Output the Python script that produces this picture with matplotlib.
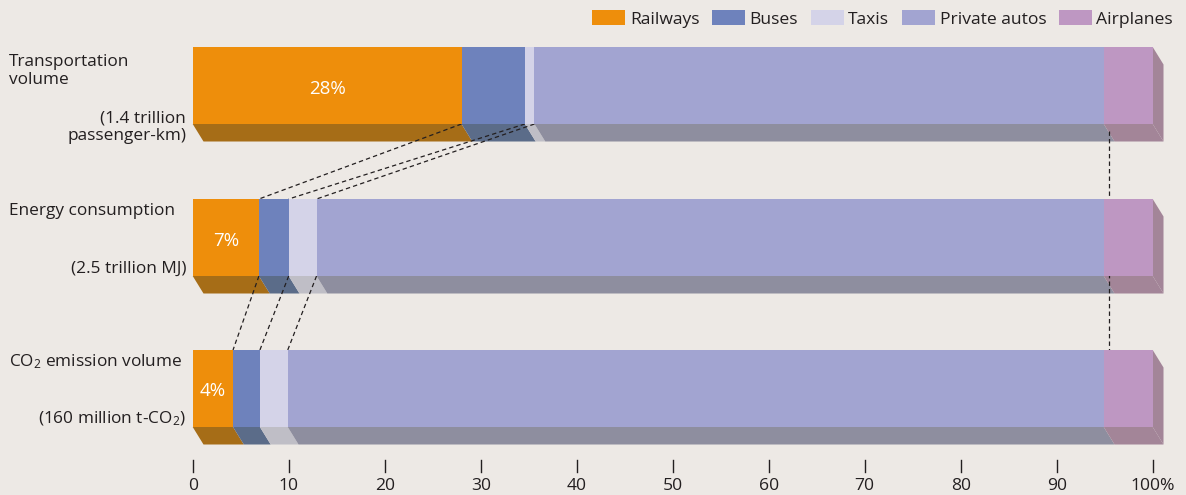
import matplotlib
matplotlib.use("Agg")
import matplotlib.pyplot as plt
from matplotlib.patches import Polygon, Patch
import numpy as np

plt.rcParams['font.family'] = ['Open Sans', 'DejaVu Sans']
plt.rcParams['mathtext.default'] = 'regular'

# ---------------- data ----------------
categories = ["Railways", "Buses", "Taxis", "Private autos", "Airplanes"]
transport_share = [28.0, 6.6, 1.0, 59.3, 5.1]
energy_share = [6.9, 3.1, 2.9, 82.0, 5.1]
co2_share = [4.2, 2.8, 2.9, 85.0, 5.1]
row_titles = ["Transportation\nvolume", "Energy consumption", "CO$_2$ emission volume"]
row_totals = ["(1.4 trillion\npassenger-km)", "(2.5 trillion MJ)", "(160 million t-CO$_2$)"]
rail_labels = ["28%", "7%", "4%"]
tick_values = [0, 10, 20, 30, 40, 50, 60, 70, 80, 90, 100]
tick_labels = ["0", "10", "20", "30", "40", "50", "60", "70", "80", "90", "100%"]
airplane_guide = 95.4

# ---------------- style ----------------
bg = "#EDE9E5"
face_colors = ["#EE8E0B", "#6E82BC", "#D4D3E8", "#A2A4D1", "#BE97C2"]
shade_colors = ["#A66D17", "#5B6C89", "#BFBEC6", "#8E8E9F", "#A38598"]
txt = "#231F20"

W, H = 1186, 495
fig = plt.figure(figsize=(W / 100, H / 100), dpi=100, facecolor=bg)
ax = fig.add_axes([0, 0, 1, 1])
ax.set_facecolor(bg)
px0, ppu = 192.7, 9.6          # pixel of 0 %, pixels per %
ax.set_xlim(-px0 / ppu, (W - px0) / ppu)
ax.set_ylim(H, 0)
ax.axis('off')

bar_tops = [47, 199, 350]
bar_h = 77
dx, dy = 10.8 / ppu, 17.5

rows = [transport_share, energy_share, co2_share]
edges_all = []
for r, shares in enumerate(rows):
    top = bar_tops[r]
    bot = top + bar_h
    edges = np.concatenate([[0], np.cumsum(shares)])
    edges[-1] = 100.0
    edges_all.append(edges)
    # bottom (shadow) faces
    for i in range(len(shares)):
        l, rr = edges[i], edges[i + 1]
        ax.add_patch(Polygon([(l, bot), (rr, bot), (rr + dx, bot + dy), (l + dx, bot + dy)],
                             closed=True, facecolor=shade_colors[i], edgecolor='none', zorder=1))
    # right side face
    ax.add_patch(Polygon([(100, top), (100 + dx, top + dy), (100 + dx, bot + dy), (100, bot)],
                         closed=True, facecolor=shade_colors[-1], edgecolor='none', zorder=1))
    # front faces
    ax.barh(top + bar_h / 2, shares, left=edges[:-1], height=bar_h,
            color=face_colors, edgecolor='none', zorder=3)
    ax.text(edges[0] + shares[0] / 2, top + bar_h / 2 + 3, rail_labels[r], color='white',
            fontsize=13.5, ha='center', va='center', zorder=4)

# dashed connectors
dash = dict(color=txt, lw=0.9, ls=(0, (3.5, 2.5)), zorder=2)
for r in range(2):
    e_up, e_dn = edges_all[r], edges_all[r + 1]
    y_up = bar_tops[r] + bar_h
    y_dn = bar_tops[r + 1]
    for k in (1, 2, 3):
        ax.plot([e_up[k], e_dn[k]], [y_up, y_dn], **dash)
ax.plot([airplane_guide, airplane_guide], [bar_tops[0] + bar_h + 7, bar_tops[2]], **dash)

# left labels
fs = 12.4
ax.text(-px0 / ppu + 9 / ppu, 71, row_titles[0], fontsize=fs, color=txt,
        ha='left', va='center', linespacing=1.12)
ax.text(-px0 / ppu + 9 / ppu, 211, row_titles[1], fontsize=fs, color=txt, ha='left', va='center')
ax.text(-px0 / ppu + 9 / ppu, 362, row_titles[2], fontsize=fs, color=txt, ha='left', va='center')
xr = -6.5 / ppu
ax.text(xr, 127, row_totals[0], fontsize=fs, color=txt, ha='right', va='center',
        linespacing=1.12, multialignment='right')
ax.text(xr, 269, row_totals[1], fontsize=fs, color=txt, ha='right', va='center')
ax.text(xr, 419, row_totals[2], fontsize=fs, color=txt, ha='right', va='center')

# x axis ticks
for v, lab in zip(tick_values, tick_labels):
    ax.plot([v, v], [460, 472], color=txt, lw=1.0)
    ax.text(v, 486, lab, fontsize=12.6, color=txt, ha='center', va='center')

# legend
handles = [Patch(facecolor=c, edgecolor='none', label=n) for c, n in zip(face_colors, categories)]
fig.legend(handles=handles, loc='upper right', bbox_to_anchor=(1180 / W, 1 - 3 / H),
           ncol=5, frameon=False, fontsize=12.6, handlelength=1.9, handleheight=0.95,
           handletextpad=0.25, columnspacing=0.72, borderaxespad=0, labelcolor=txt)

fig.savefig("out.png", dpi=100, facecolor=bg)
